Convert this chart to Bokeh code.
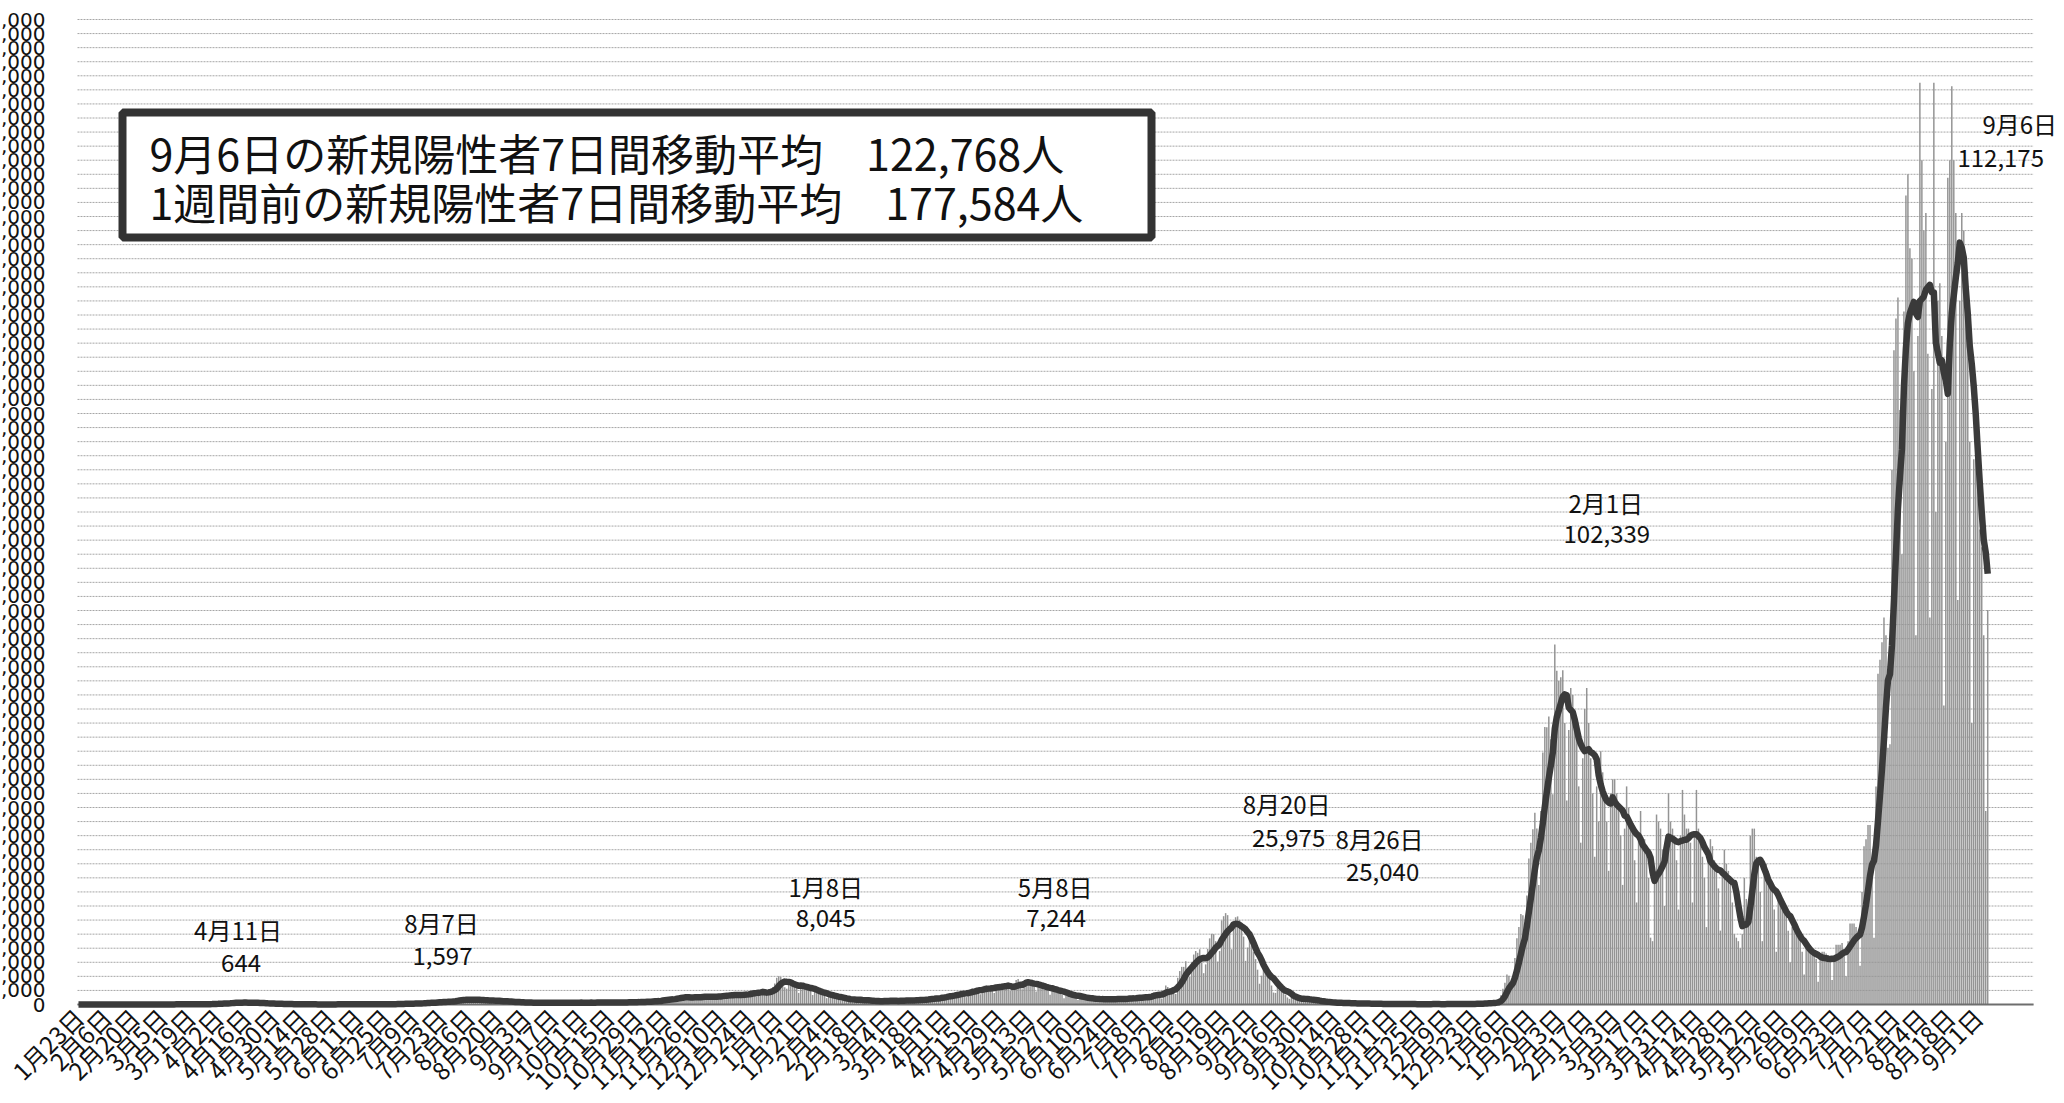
import math
import numpy as np
import pandas as pd
from bokeh.plotting import figure
from bokeh.models import Range1d, Label, BoxAnnotation, ColumnDataSource
from bokeh.core.properties import value
from bokeh.embed import file_html
from bokeh.resources import INLINE

# ---------------- data (daily new positives, weeks start on Thursday) ----------------
START_DATE = "2020-01-23"

weeks_a = [  # 2020-01-23 .. 2021-01-06
    [0, 1, 0, 1, 0, 1, 2], [3, 2, 1, 0, 1, 3, 4], [1, 0, 0, 1, 0, 1, 3], [4, 8, 6, 5, 3, 4, 5],
    [12, 9, 11, 8, 10, 12, 9], [18, 14, 16, 12, 10, 15, 20], [30, 41, 45, 35, 20, 32, 40],
    [45, 42, 48, 38, 22, 40, 45], [40, 48, 52, 35, 30, 50, 60], [96, 112, 200, 173, 87, 225, 266],
    [235, 350, 300, 380, 250, 360, 510], [580, 620, 644, 560, 350, 450, 550],
    [580, 570, 580, 500, 360, 370, 400], [430, 400, 340, 200, 170, 270, 240],
    [200, 170, 250, 190, 90, 90, 120], [100, 80, 110, 60, 60, 90, 60], [90, 60, 40, 30, 55, 30, 30],
    [30, 25, 20, 20, 20, 30, 25], [45, 50, 40, 35, 30, 25, 50], [50, 40, 45, 40, 25, 40, 35],
    [40, 60, 45, 70, 40, 40, 45], [70, 60, 70, 50, 40, 60, 95], [100, 100, 110, 130, 95, 100, 130],
    [200, 250, 270, 230, 160, 210, 200], [350, 430, 400, 350, 280, 350, 450],
    [600, 650, 660, 520, 400, 630, 800], [980, 770, 840, 820, 600, 900, 1260],
    [1300, 1580, 1540, 1330, 960, 1240, 1360], [1480, 1597, 1560, 1440, 800, 1040, 1230],
    [1170, 1360, 1260, 1020, 680, 1000, 1200], [1060, 1040, 960, 740, 600, 750, 850],
    [850, 700, 650, 600, 440, 570, 600], [560, 600, 530, 480, 300, 500, 500],
    [640, 660, 590, 440, 270, 480, 540], [580, 590, 550, 470, 310, 380, 580],
    [570, 620, 630, 440, 310, 520, 600], [630, 560, 590, 480, 320, 570, 540],
    [630, 690, 610, 560, 300, 520, 580], [630, 650, 610, 460, 320, 560, 620],
    [700, 730, 770, 550, 420, 600, 760], [870, 760, 980, 730, 440, 850, 780],
    [1050, 1150, 1300, 960, 640, 1200, 1550], [1660, 1700, 1730, 1440, 950, 1700, 2200],
    [2380, 2400, 2500, 2100, 1200, 1500, 1900], [2500, 2500, 2680, 2000, 1430, 2000, 2400],
    [2500, 2430, 2500, 2050, 1400, 2100, 2800], [2800, 3000, 3000, 2400, 1680, 2500, 3100],
    [3200, 3000, 2980, 2500, 1780, 2900, 3300], [3700, 3800, 3800, 3000, 2300, 3600, 3900],
    [4500, 3200, 3100, 3500, 3300, 4900, 6000],
]

weeks_b = [  # 2021-01-07 .. 2022-01-05
    [7600, 8045, 7800, 6300, 4900, 4500, 5800], [6600, 6000, 6000, 5000, 3300, 4900, 5600],
    [5400, 5000, 4700, 3900, 2700, 3900, 3900], [3500, 3500, 3300, 2600, 1800, 2300, 2600],
    [2600, 2300, 2300, 1600, 1200, 1600, 1700], [1400, 1600, 1400, 1300, 900, 1300, 1500],
    [1300, 1150, 1200, 1150, 700, 850, 1100], [1100, 1050, 1000, 800, 750, 1200, 1200],
    [1150, 1140, 1050, 900, 600, 1100, 1300], [1300, 1300, 1250, 1100, 600, 1100, 1500],
    [1500, 1450, 1500, 1300, 850, 1500, 1900], [2000, 2000, 1900, 1800, 1000, 2000, 2600],
    [2600, 2800, 2800, 2500, 1600, 2700, 3500], [3400, 3700, 3700, 3000, 2100, 3400, 4300],
    [4600, 4500, 4800, 4100, 2900, 3900, 5300], [5500, 5100, 5100, 4600, 3300, 4900, 5800],
    [5800, 5900, 5800, 5000, 4400, 4000, 4200], [6000, 7000, 7244, 6300, 4300, 5600, 6900],
    [6900, 6300, 6400, 5200, 3700, 4800, 5700], [5700, 5200, 4900, 4000, 2800, 4100, 4500],
    [4600, 3900, 3800, 2800, 1800, 2900, 3000], [2800, 2800, 2700, 2000, 1300, 2200, 2200],
    [2000, 1900, 1900, 1400, 1000, 1500, 1700], [1800, 1600, 1700, 1300, 900, 1400, 1700],
    [1800, 1800, 1700, 1500, 1000, 1500, 1800], [1800, 2100, 2100, 1700, 1200, 1800, 2200],
    [2200, 2300, 2500, 2000, 1300, 2300, 3200], [3400, 3500, 3100, 2500, 1700, 3700, 5400],
    [5000, 4200, 4200, 4700, 3000, 7600, 9500], [10700, 10700, 12300, 10200, 7900, 12000, 14200],
    [15200, 14700, 15700, 12000, 8900, 11400, 15800], [18800, 20100, 20000, 18000, 12200, 15200, 23900],
    [25100, 25975, 25400, 22000, 15700, 21500, 24800], [25040, 24000, 22500, 19300, 12400, 16200, 20000],
    [16800, 15000, 12900, 9900, 5900, 8200, 10300], [9400, 8300, 7200, 5400, 3400, 3300, 5200],
    [5100, 4100, 3500, 2800, 2000, 1600, 2200], [1700, 2000, 1800, 1300, 1000, 1500, 1700],
    [1600, 1400, 1300, 900, 600, 900, 1100], [900, 800, 700, 500, 320, 400, 600],
    [600, 500, 450, 400, 250, 400, 400], [350, 300, 330, 260, 150, 300, 300],
    [280, 250, 270, 200, 100, 200, 250], [170, 200, 160, 160, 100, 140, 200],
    [200, 170, 140, 120, 80, 120, 150], [150, 100, 110, 120, 50, 100, 90],
    [100, 130, 110, 100, 80, 90, 130], [120, 130, 110, 90, 60, 80, 140],
    [170, 140, 120, 110, 70, 130, 170], [160, 150, 170, 110, 80, 170, 250],
    [280, 240, 300, 250, 200, 390, 500], [500, 540, 450, 530, 780, 1200, 2600],
]

weeks_c = [  # 2022-01-06 .. 2022-09-06
    [4500, 6200, 8500, 8200, 6400, 6000, 13200], [18800, 22000, 25700, 25400, 19800, 31000, 41500],
    [46000, 49800, 54500, 50000, 34000, 55000, 71600], [78900, 78800, 81900, 75400, 59800, 102339, 94900],
    [92000, 93000, 95000, 80000, 58000, 78000, 90000], [88000, 78000, 76000, 62000, 46000, 70000, 84000],
    [90000, 80000, 70000, 60000, 42000, 62000, 52000], [72000, 66000, 60000, 52000, 38000, 60000, 64000],
    [64000, 60000, 56000, 48000, 34000, 50000, 62000], [56000, 52000, 49000, 41000, 29000, 47000, 55000],
    [45000, 47000, 43000, 36000, 19000, 18000, 38000], [54000, 52000, 50000, 44000, 28000, 46000, 60000],
    [52000, 50000, 47000, 41000, 27000, 48000, 61000], [54000, 50000, 50000, 46000, 29000, 49000, 61000],
    [50000, 46000, 42000, 36000, 22000, 42000, 47000], [45000, 41000, 38000, 33000, 21000, 37000, 44000],
    [40000, 38000, 34000, 29000, 20000, 19000, 18000], [16000, 20000, 36000, 30000, 25000, 48000, 50000],
    [50000, 42000, 41000, 32000, 18000, 37000, 40000], [38000, 35000, 33000, 27000, 15000, 30000, 31000],
    [30000, 27000, 25000, 21000, 12000, 22000, 23000], [21000, 19000, 18000, 15000, 8500, 16000, 17000],
    [16000, 15000, 15000, 13000, 6500, 13000, 15000], [15000, 14500, 14000, 12500, 7000, 13000, 17000],
    [17000, 17000, 17500, 15000, 8000, 18000, 23000], [23000, 23000, 22000, 19000, 11000, 32000, 45000],
    [47000, 51000, 51000, 41000, 19000, 62000, 94000], [98000, 103000, 110000, 105000, 73000, 74000, 152000],
    [186000, 195000, 201000, 169000, 128000, 197000, 230000],
    [236000, 215000, 212000, 180000, 105000, 190000, 262000],
    [240000, 220000, 225000, 185000, 110000, 175000, 262000],
    [140000, 200000, 205000, 190000, 85000, 160000, 235000],
    [240000, 261004, 240000, 225000, 115000, 200000, 225000],
    [220000, 200000, 190000, 160000, 80000, 155000, 170000],
    [150000, 135000, 130000, 105000, 55000, 112175],
]

# summary box texts
box_lines = ["9月6日の新規陽性者7日間移動平均　122,768人",
             "1週間前の新規陽性者7日間移動平均　177,584人"]

# annotated days (label shows that day's count)
ann_dates = ["2020-04-11", "2020-08-07", "2021-01-08", "2021-05-08",
             "2021-08-20", "2021-08-26", "2022-02-01", "2022-09-06"]

# y axis ticks
Y_MAX = 280000
Y_STEP = 4000
TICK_EVERY_DAYS = 14
GRID_END_DAY = 980

# ---------------- derived ----------------
daily = np.array([v for wk in (weeks_a + weeks_b + weeks_c) for v in wk], dtype=float)
dates = pd.date_range(START_DATE, periods=len(daily), freq="D")
day = np.arange(len(daily))
avg7 = pd.Series(daily).rolling(7, min_periods=1).mean().to_numpy()
src = ColumnDataSource(dict(day=day, cases=daily, avg=avg7))

tick_days = list(range(0, len(daily), TICK_EVERY_DAYS))
tick_labels = [f"{dates[d].month}月{dates[d].day}日" for d in tick_days]

y_ticks = list(range(0, Y_MAX + 1, Y_STEP))
# the original's y labels run off the page edge: only their last four characters show
y_labels = [f"{v:,}"[-4:] for v in y_ticks]

# ---------------- layout (frame covers the whole canvas; axes drawn on it) ----------------
W, H = 2060, 1100
LEFT_PX, TOP_PX, BASE_PX = 77, 19, 1004
PX_PER_DAY = 1.995
UPP = Y_MAX / (BASE_PX - TOP_PX)          # value units per pixel
X0 = -0.5 - LEFT_PX / PX_PER_DAY
X1 = X0 + W / PX_PER_DAY
Y1 = Y_MAX + TOP_PX * UPP
Y0 = Y1 - H * UPP


def px_x(px):
    return X0 + px / PX_PER_DAY


def px_y(py):
    return Y1 - py * UPP


p = figure(width=W, height=H, output_backend="svg", toolbar_location=None,
           x_range=Range1d(X0, X1), y_range=Range1d(Y0, Y1),
           min_border=0, min_border_left=0, min_border_right=0,
           min_border_top=0, min_border_bottom=0)
p.background_fill_color = "white"
p.border_fill_color = "white"
p.outline_line_color = None
p.grid.visible = False
p.xaxis.visible = False
p.yaxis.visible = False

# horizontal gridlines
n = len(y_ticks)
p.segment(x0=[-0.5] * n, x1=[GRID_END_DAY] * n, y0=y_ticks, y1=y_ticks,
          line_color="#a6a6a6", line_width=1, line_dash="2 1")
# y tick labels
p.text(x=[px_x(45)] * n, y=y_ticks, text=y_labels, text_align="right", text_baseline="middle",
       text_font=value("DejaVu Sans"), text_font_size=value("20px"), text_color="#111111")

# bars and moving average
p.vbar(x="day", top="cases", width=0.75, source=src, fill_color="#949494", line_color=None)
p.segment(x0=[-0.5], x1=[GRID_END_DAY], y0=[0], y1=[0], line_color="#6e6e6e", line_width=2)
p.line(x="day", y="avg", source=src, line_color="#3a3a3a", line_width=6.5, line_join="round")

# x tick labels, rotated 45 degrees, ending at the tick
p.text(x=tick_days, y=[px_y(BASE_PX + 8)] * len(tick_days), text=tick_labels, angle=math.pi / 4,
       text_align="right", text_baseline="middle",
       text_font=value("Noto Sans CJK JP"), text_font_size=value("24px"), text_color="#111111")

# summary box
box = BoxAnnotation(left=px_x(122), right=px_x(1151), top=px_y(112), bottom=px_y(237),
                    fill_color="white", fill_alpha=1.0, line_color="#333333", line_alpha=1.0,
                    line_width=8)
p.add_layout(box)
for i, t in enumerate(box_lines):
    p.add_layout(Label(x=px_x(149), y=px_y(151 + 49 * i), text=t, text_align="left",
                       text_baseline="middle", text_font="Noto Sans CJK JP",
                       text_font_size="43px", text_color="#111111"))

# peak annotations: x offsets (px) of date line / value line, and their vertical pixel rows
ann_dx = [(2, 5), (-30, -29), (47, 47), (37, 38), (61, 63), (142, 145), (51, 52), (32, 13)]
ann_py = [(929, 962), (922, 955), (886, 917), (886, 917), (803, 837), (838, 871), (502, 533), (123, 157)]
for ds, (dx1, dx2), (py1, py2) in zip(ann_dates, ann_dx, ann_py):
    ts = pd.Timestamp(ds)
    d = int((ts - dates[0]).days)
    for txt, dx, py in ((f"{ts.month}月{ts.day}日", dx1, py1), (f"{int(daily[d]):,}", dx2, py2)):
        p.add_layout(Label(x=d, y=px_y(py), x_offset=dx, text=txt, text_align="center",
                           text_baseline="middle", text_font="Noto Sans CJK JP",
                           text_font_size="24px", text_color="#111111"))

open("out.html", "w").write(file_html(p, INLINE))
